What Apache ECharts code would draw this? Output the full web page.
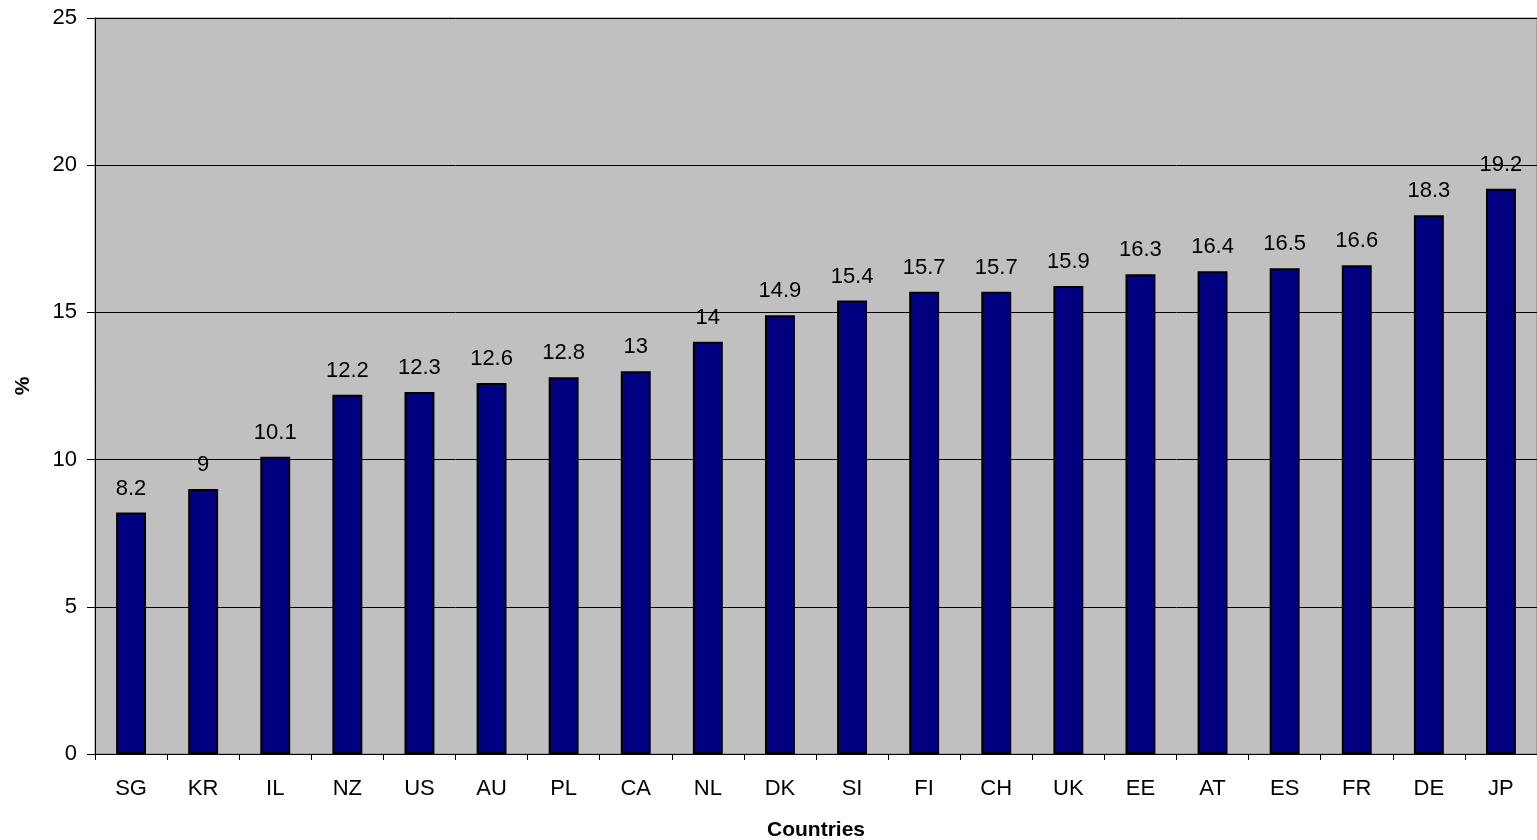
<!DOCTYPE html>
<html>
<head>
<meta charset="utf-8">
<script src="https://cdn.jsdelivr.net/npm/echarts@6/dist/echarts.min.js"></script>
<style>
    html, body { margin: 0; padding: 0; background: #fff; }
    #main { width: 1537px; height: 840px; }
</style>
</head>
<body>
<div id="main"></div>
<script>
// 国家分类
var countries = ["SG", "KR", "IL", "NZ", "US", "AU", "PL", "CA", "NL", "DK",
    "SI", "FI", "CH", "UK", "EE", "AT", "ES", "FR", "DE", "JP"];
// 百分比数值
var values = [8.2, 9, 10.1, 12.2, 12.3, 12.6, 12.8, 13, 14, 14.9,
    15.4, 15.7, 15.7, 15.9, 16.3, 16.4, 16.5, 16.6, 18.3, 19.2];
// Y轴刻度
var yTicks = [0, 5, 10, 15, 20, 25];

var font = "Liberation Sans, Arial, sans-serif";
var chartW = 1537;
var myChart = echarts.init(document.getElementById("main"));

var option = {
    animation: false,
    grid: {
        left: 95,
        right: 0,
        top: 18,
        bottom: 86,
        outerBoundsMode: "none", // 不让坐标轴名称挤压绘图区
        show: true,
        backgroundColor: "#c0c0c0",
        borderColor: "#808080",
        borderWidth: 1
    },
    xAxis: {
        type: "category",
        data: countries,
        name: "Countries",
        nameLocation: "middle",
        nameGap: 66,
        nameTextStyle: { fontFamily: font, fontSize: 21, fontWeight: "bold", color: "#000" },
        axisLine: { lineStyle: { color: "#000", width: 1 } },
        axisTick: { show: true, length: 6, lineStyle: { color: "#000" } },
        axisLabel: { fontFamily: font, fontSize: 22, color: "#000", margin: 24 }
    },
    yAxis: {
        type: "value",
        min: yTicks[0],
        max: yTicks[yTicks.length - 1],
        interval: 5,
        name: "%",
        nameLocation: "middle",
        nameGap: 61,
        nameTextStyle: { fontFamily: font, fontSize: 21, fontWeight: "bold", color: "#000" },
        axisLine: { show: true, lineStyle: { color: "#000", width: 1 } },
        axisTick: { show: true, length: 8, lineStyle: { color: "#000" } },
        axisLabel: { fontFamily: font, fontSize: 22, color: "#000", margin: 18 },
        splitLine: { show: true, lineStyle: { color: "#000", width: 1 } }
    },
    series: [{
        type: "bar",
        data: values,
        barWidth: "41.5%",
        itemStyle: { color: "#000080", borderColor: "#000", borderWidth: 2 },
        label: {
            show: true,
            position: "top",
            distance: 13,
            fontFamily: font,
            fontSize: 22,
            color: "#000"
        },
        // 超出画布右边的标签往里挪
        labelLayout: function(params) {
            var r = params.labelRect;
            if (r.x + r.width > chartW - 2) {
                return { x: chartW - 2 - r.width / 2 };
            }
            return {};
        }
    }]
};
myChart.setOption(option);
</script>
</body>
</html>
